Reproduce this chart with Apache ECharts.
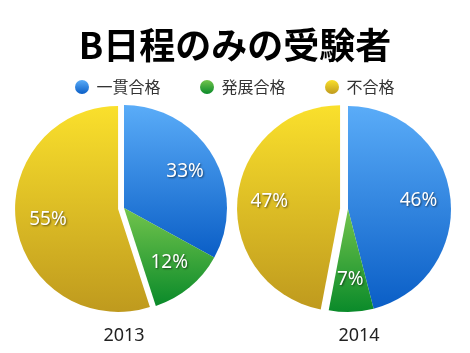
<!DOCTYPE html>
<html><head><meta charset="utf-8">
<script src="https://cdn.jsdelivr.net/npm/echarts@6/dist/echarts.min.js"></script>
<style>html,body{margin:0;padding:0;background:#fff}#c{width:470px;height:353px}</style>
</head><body><div id="c"></div>
<script>
const categories = ['一貫合格', '発展合格', '不合格'];
const years = ['2013', '2014'];
const values2013 = [33, 12, 55];
const values2014 = [46, 7, 47];
const titleText = 'B日程のみの受験者';

const grads = [
  ['#5aacf8', '#0a5ec6'],
  ['#72c44c', '#0a8a2a'],
  ['#fae02c', '#bf9a1e']
];
function grad(i) {
  return {type: 'linear', x: 0, y: 0, x2: 0, y2: 1,
    colorStops: [{offset: 0, color: grads[i][0]}, {offset: 1, color: grads[i][1]}]};
}
function mkData(vals, transparent) {
  return vals.map((v, i) => ({
    name: categories[i], value: v,
    selected: i === 2,
    itemStyle: {color: transparent ? 'rgba(0,0,0,0)' : grad(i)}
  }));
}
const font = '"Noto Sans", "Noto Sans CJK JP", sans-serif';
const R = 103;
const centers = [[124, 208], [348, 209]];
const offsets = [6, 8];
const allVals = [values2013, values2014];

const series = [];
allVals.forEach((vals, k) => {
  series.push({
    type: 'pie', center: centers[k], radius: [0, R], startAngle: 90, clockwise: true,
    selectedMode: 'single', selectedOffset: offsets[k], animation: false, silent: true,
    label: {show: false}, labelLine: {show: false},
    emphasis: {disabled: true},
    data: mkData(vals, false)
  });
  series.push({
    type: 'pie', center: centers[k], radius: [R * 0.32, R], startAngle: 90, clockwise: true,
    selectedMode: 'single', selectedOffset: offsets[k], animation: false, silent: true,
    legendHoverLink: false,
    label: {show: true, position: 'inside', formatter: '{c}%', color: '#fff', fontSize: 19,
      fontFamily: font, textShadowColor: 'rgba(0,0,0,0.55)', textShadowBlur: 2, textShadowOffsetX: 1, textShadowOffsetY: 1},
    labelLine: {show: false},
    emphasis: {disabled: true},
    data: mkData(vals, true)
  });
});

const legendLefts = [75, 200, 325];
const legends = categories.map((c, i) => ({
  data: [{name: c, itemStyle: {color: grad(i)}}],
  left: legendLefts[i], top: 79, itemWidth: 19, itemHeight: 14, icon: 'circle',
  selectedMode: false, padding: 0,
  textStyle: {fontSize: 16, color: '#333', fontFamily: '"Noto Sans CJK JP", sans-serif'}
}));

const chart = echarts.init(document.getElementById('c'));
chart.setOption({
  backgroundColor: '#fff',
  title: [
    {text: titleText, left: 230, top: 22, textAlign: 'center',
      textStyle: {fontSize: 36, fontWeight: 'bold', color: '#000', fontFamily: '"Noto Sans CJK JP", sans-serif'}},
    {text: years[0], left: 119, top: 322, textAlign: 'center',
      textStyle: {fontSize: 18, fontWeight: 'normal', color: '#222', fontFamily: font}},
    {text: years[1], left: 354, top: 322, textAlign: 'center',
      textStyle: {fontSize: 18, fontWeight: 'normal', color: '#222', fontFamily: font}}
  ],
  legend: legends,
  series: series
});
</script></body></html>
